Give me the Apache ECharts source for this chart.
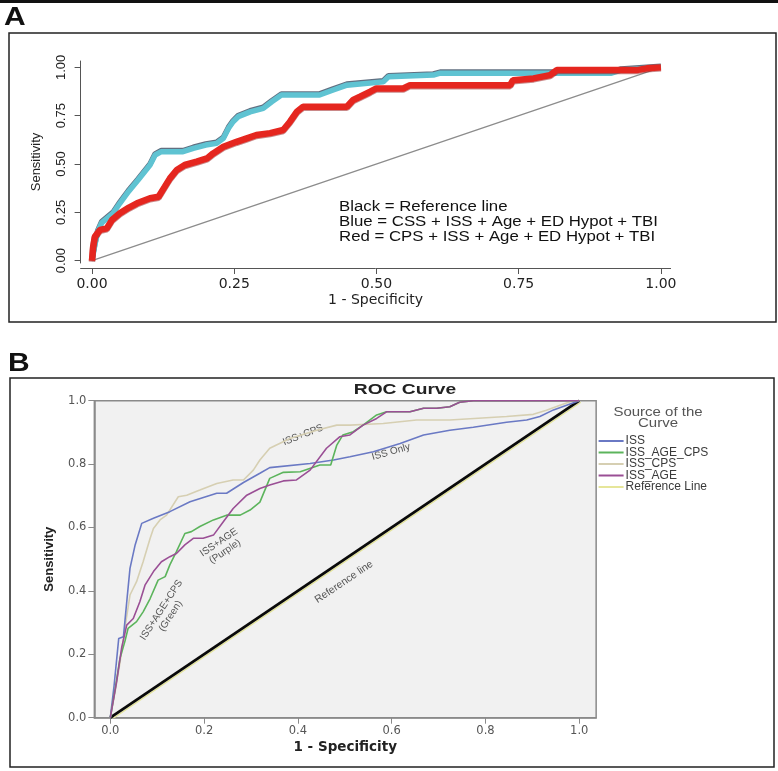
<!DOCTYPE html>
<html><head><meta charset="utf-8">
<script src="https://cdn.jsdelivr.net/npm/echarts@6/dist/echarts.min.js"></script>
<style>html,body{margin:0;padding:0;background:#fff}#c{width:778px;height:771px}</style>
</head><body><div id="c"></div>
<script>
// ---------- Panel A data ----------
const ticksA = [0, 0.25, 0.5, 0.75, 1];
const refAx = [0, 1];
const refAy = [0, 1];
const blueAx = [0, 0.005, 0.01, 0.017, 0.037, 0.049, 0.064, 0.081, 0.102, 0.111, 0.122, 0.16, 0.178, 0.2, 0.219, 0.231, 0.24, 0.248, 0.257, 0.278, 0.301, 0.316, 0.333, 0.4, 0.424, 0.448, 0.512, 0.521, 0.6, 0.612, 0.913, 0.93, 1];
const blueAy = [0, 0.08, 0.15, 0.196, 0.245, 0.297, 0.357, 0.417, 0.495, 0.547, 0.564, 0.564, 0.581, 0.598, 0.607, 0.633, 0.685, 0.719, 0.745, 0.77, 0.788, 0.822, 0.857, 0.857, 0.883, 0.908, 0.925, 0.951, 0.96, 0.97, 0.97, 0.986, 1];
const redAx = [0, 0.002, 0.005, 0.014, 0.026, 0.035, 0.049, 0.065, 0.079, 0.102, 0.117, 0.128, 0.137, 0.149, 0.163, 0.184, 0.202, 0.213, 0.231, 0.254, 0.272, 0.289, 0.313, 0.336, 0.348, 0.36, 0.371, 0.448, 0.459, 0.471, 0.489, 0.5, 0.547, 0.559, 0.735, 0.74, 0.776, 0.805, 0.817, 0.957, 0.975, 1];
const redAy = [0, 0.07, 0.124, 0.159, 0.167, 0.21, 0.245, 0.275, 0.297, 0.323, 0.331, 0.383, 0.426, 0.469, 0.495, 0.512, 0.529, 0.555, 0.589, 0.615, 0.633, 0.65, 0.66, 0.676, 0.719, 0.77, 0.796, 0.796, 0.831, 0.848, 0.874, 0.891, 0.891, 0.908, 0.908, 0.934, 0.943, 0.96, 0.986, 0.986, 0.995, 1];
const legendA = ['Black = Reference line', 'Blue = CSS + ISS + Age + ED Hypot + TBI', 'Red = CPS + ISS + Age + ED Hypot + TBI'];

// ---------- Panel B data ----------
const ticksB = [0, 0.2, 0.4, 0.6, 0.8, 1];
const namesB = ['ISS', 'ISS_AGE_CPS', 'ISS_CPS', 'ISS_AGE', 'Reference Line'];
const issX = [0, 0.008, 0.018, 0.028, 0.036, 0.042, 0.053, 0.067, 0.092, 0.127, 0.17, 0.227, 0.248, 0.284, 0.319, 0.34, 0.426, 0.476, 0.511, 0.561, 0.618, 0.668, 0.724, 0.774, 0.845, 0.888, 0.916, 0.945, 0.973, 1];
const issY = [0, 0.1, 0.25, 0.255, 0.38, 0.471, 0.545, 0.613, 0.629, 0.65, 0.681, 0.708, 0.708, 0.742, 0.771, 0.789, 0.802, 0.813, 0.823, 0.839, 0.865, 0.892, 0.907, 0.916, 0.932, 0.939, 0.95, 0.971, 0.986, 1];
const issCpsX = [0, 0.01, 0.021, 0.031, 0.042, 0.056, 0.07, 0.085, 0.092, 0.106, 0.12, 0.145, 0.163, 0.191, 0.227, 0.262, 0.284, 0.305, 0.319, 0.34, 0.383, 0.44, 0.483, 0.511, 0.582, 0.653, 0.724, 0.845, 0.902, 0.93, 0.959, 0.987, 1];
const issCpsY = [0, 0.08, 0.177, 0.282, 0.387, 0.429, 0.492, 0.566, 0.597, 0.624, 0.639, 0.697, 0.702, 0.718, 0.739, 0.75, 0.75, 0.781, 0.813, 0.85, 0.881, 0.907, 0.923, 0.923, 0.928, 0.939, 0.939, 0.95, 0.957, 0.97, 0.986, 1, 1];
const issAgeX = [0, 0.0135, 0.024, 0.035, 0.049, 0.063, 0.074, 0.092, 0.109, 0.127, 0.141, 0.159, 0.177, 0.198, 0.22, 0.241, 0.262, 0.291, 0.319, 0.34, 0.369, 0.397, 0.426, 0.461, 0.489, 0.511, 0.539, 0.568, 0.589, 0.639, 0.668, 0.696, 0.724, 0.745, 0.774, 1];
const issAgeY = [0, 0.114, 0.219, 0.292, 0.313, 0.366, 0.418, 0.461, 0.492, 0.508, 0.518, 0.545, 0.566, 0.566, 0.576, 0.618, 0.66, 0.702, 0.723, 0.734, 0.747, 0.75, 0.781, 0.85, 0.886, 0.892, 0.923, 0.944, 0.965, 0.965, 0.976, 0.976, 0.981, 0.995, 1, 1];
const issAgeCpsX = [0, 0.0107, 0.0206, 0.031, 0.038, 0.056, 0.07, 0.085, 0.102, 0.117, 0.127, 0.141, 0.159, 0.173, 0.191, 0.22, 0.248, 0.277, 0.298, 0.319, 0.34, 0.369, 0.405, 0.447, 0.47, 0.483, 0.496, 0.518, 0.539, 0.568, 0.589, 0.639, 0.668, 0.696, 0.724, 0.745, 0.774, 1];
const issAgeCpsY = [0, 0.093, 0.187, 0.24, 0.282, 0.303, 0.334, 0.376, 0.434, 0.445, 0.482, 0.524, 0.581, 0.587, 0.603, 0.624, 0.639, 0.639, 0.655, 0.68, 0.755, 0.774, 0.776, 0.797, 0.797, 0.86, 0.892, 0.902, 0.923, 0.955, 0.965, 0.965, 0.976, 0.976, 0.981, 0.995, 1, 1];
const refBx = [0, 1];
const refBy = [0, 1];

const zip = (xs, ys) => xs.map((x, i) => [x, ys[i]]);
const f2 = v => v.toFixed(2);
const f1 = v => v.toFixed(1);

const chart = echarts.init(document.getElementById('c'), null, {renderer: 'canvas'});

const txt = (x, y, text, font, opts) => Object.assign({
  type: 'text', x: x, y: y, silent: true,
  style: {text: text, font: font, fill: '#111', align: 'left', verticalAlign: 'middle'}
}, opts || {});

const option = {
  animation: false,
  backgroundColor: '#fff',
  grid: [
    {left: 80.6, top: 61, width: 590, height: 202, containLabel: false},
    {left: 94.35, top: 400.7, width: 501.8, height: 317, show: true,
     backgroundColor: '#f1f1f1', borderColor: '#8a8a8a', borderWidth: 1.5}
  ],
  xAxis: [
    {type: 'value', gridIndex: 0, min: -0.02, max: 1.017, offset: 5,
     axisLine: {show: true, onZero: false, lineStyle: {color: '#555', width: 1}},
     axisTick: {show: true, customValues: ticksA, length: 6, lineStyle: {color: '#555'}},
     axisLabel: {customValues: ticksA, formatter: f2, margin: 9, fontFamily: 'DejaVu Sans', fontSize: 14, color: '#222'},
     splitLine: {show: false},
     name: '1 - Specificity', nameLocation: 'middle', nameGap: 25,
     nameTextStyle: {fontFamily: 'DejaVu Sans', fontSize: 14, color: '#222'}},
    {type: 'value', gridIndex: 1, min: -0.034, max: 1.036,
     axisLine: {show: true, onZero: false, lineStyle: {color: '#8a8a8a', width: 1.5}},
     axisTick: {show: true, customValues: ticksB, length: 6, lineStyle: {color: '#8a8a8a'}},
     axisLabel: {customValues: ticksB, formatter: f1, margin: 7, fontFamily: 'DejaVu Sans', fontSize: 11.5, color: '#555'},
     splitLine: {show: false},
     name: '1 - Specificity', nameLocation: 'middle', nameGap: 23,
     nameTextStyle: {fontFamily: 'DejaVu Sans', fontSize: 13.5, fontWeight: 'bold', color: '#222'}}
  ],
  yAxis: [
    {type: 'value', gridIndex: 0, min: -0.012, max: 1.033,
     axisLine: {show: true, onZero: false, lineStyle: {color: '#555', width: 1}},
     axisTick: {show: true, customValues: ticksA, length: 6, lineStyle: {color: '#555'}},
     axisLabel: {customValues: ticksA, formatter: f2, rotate: 90, margin: 13, fontFamily: 'Liberation Sans', fontSize: 13, color: '#222'},
     splitLine: {show: false},
     name: 'Sensitivity', nameLocation: 'middle', nameGap: 38,
     nameTextStyle: {fontFamily: 'Liberation Sans', fontSize: 13, color: '#222'}},
    {type: 'value', gridIndex: 1, min: 0, max: 1, interval: 0.2,
     axisLine: {show: true, onZero: false, lineStyle: {color: '#8a8a8a', width: 1.5}},
     axisTick: {show: true, length: 6, lineStyle: {color: '#8a8a8a'}},
     axisLabel: {formatter: f1, margin: 8, fontFamily: 'DejaVu Sans', fontSize: 11.5, color: '#555'},
     splitLine: {show: false},
     name: 'Sensitivity', nameLocation: 'middle', nameGap: 38,
     nameTextStyle: {fontFamily: 'Liberation Sans', fontSize: 13, fontWeight: 'bold', color: '#222'}}
  ],
  legend: {
    orient: 'vertical', left: 598.6, top: 435, padding: 0, itemGap: -0.5,
    itemWidth: 25, itemHeight: 2, icon: 'rect', selectedMode: false,
    data: namesB,
    textStyle: {fontFamily: 'Liberation Sans', fontSize: 12, color: '#3a3a3a', lineHeight: 11, padding: [0, 0, 0, -3]}
  },
  series: [
    {type: 'line', name: 'refA', xAxisIndex: 0, yAxisIndex: 0, data: zip(refAx, refAy), showSymbol: false, silent: true,
     lineStyle: {color: '#8c8c8c', width: 1.3}, z: 2},
    {type: 'line', name: 'blueA', xAxisIndex: 0, yAxisIndex: 0, data: zip(blueAx, blueAy), showSymbol: false, silent: true,
     color: '#5fc3d2',
     lineStyle: {color: '#5fc3d2', width: 5.5, shadowColor: 'rgba(30,50,75,0.7)', shadowBlur: 0, shadowOffsetY: -1.1}, z: 3},
    {type: 'line', name: 'redA', xAxisIndex: 0, yAxisIndex: 0, data: zip(redAx, redAy), showSymbol: false, silent: true,
     color: '#e5261f',
     lineStyle: {color: '#e5261f', width: 6.5, shadowColor: 'rgba(150,20,20,0.5)', shadowBlur: 0, shadowOffsetY: 1}, z: 4},

    {type: 'line', name: 'Reference Line', xAxisIndex: 1, yAxisIndex: 1, data: zip(refBx, refBy), showSymbol: false, silent: true,
     color: '#e6e69a',
     lineStyle: {color: '#e6e69a', width: 1.3, shadowColor: '#e3e394', shadowBlur: 0, shadowOffsetX: 1.5, shadowOffsetY: 1.5}, z: 2},
    {type: 'line', name: 'refBlack', xAxisIndex: 1, yAxisIndex: 1, data: zip(refBx, refBy), showSymbol: false, silent: true,
     color: '#000', lineStyle: {color: '#0a0a0a', width: 2.8}, z: 3},
    {type: 'line', name: 'ISS_CPS', xAxisIndex: 1, yAxisIndex: 1, data: zip(issCpsX, issCpsY), showSymbol: false, silent: true,
     color: '#d6cfb2', lineStyle: {color: '#d6cfb2', width: 1.6}, z: 4},
    {type: 'line', name: 'ISS', xAxisIndex: 1, yAxisIndex: 1, data: zip(issX, issY), showSymbol: false, silent: true,
     color: '#6a79c4', lineStyle: {color: '#6a79c4', width: 1.6}, z: 5},
    {type: 'line', name: 'ISS_AGE_CPS', xAxisIndex: 1, yAxisIndex: 1, data: zip(issAgeCpsX, issAgeCpsY), showSymbol: false, silent: true,
     color: '#5cb45c', lineStyle: {color: '#5cb45c', width: 1.6}, z: 6},
    {type: 'line', name: 'ISS_AGE', xAxisIndex: 1, yAxisIndex: 1, data: zip(issAgeX, issAgeY), showSymbol: false, silent: true,
     color: '#9a4f95', lineStyle: {color: '#9a4f95', width: 1.6}, z: 7}
  ],
  graphic: [
    {type: 'rect', shape: {x: 0, y: 0, width: 778, height: 3}, style: {fill: '#111'}, silent: true},
    txt(4, 18, 'A', 'bold 25px "Liberation Sans", Arial', {scaleX: 1.2}),
    {type: 'rect', shape: {x: 9, y: 33, width: 767, height: 289}, style: {fill: 'none', stroke: '#222', lineWidth: 1.5}, silent: true},
    txt(339, 207, legendA[0], '14px "Liberation Sans", Arial', {scaleX: 1.2}),
    txt(339, 222, legendA[1], '14px "Liberation Sans", Arial', {scaleX: 1.2}),
    txt(339, 237, legendA[2], '14px "Liberation Sans", Arial', {scaleX: 1.2}),

    txt(8, 364, 'B', 'bold 25px "Liberation Sans", Arial', {scaleX: 1.2}),
    {type: 'rect', shape: {x: 10, y: 378, width: 764, height: 389}, style: {fill: 'none', stroke: '#222', lineWidth: 1.5}, silent: true},
    {type: 'text', x: 405, y: 390, silent: true, scaleX: 1.28,
     style: {text: 'ROC Curve', font: 'bold 15px "Liberation Sans", Arial', fill: '#222', align: 'center', verticalAlign: 'middle'}},
    {type: 'text', x: 658, y: 418, silent: true, scaleX: 1.2,
     style: {text: 'Source of the\nCurve', font: '12.5px "Liberation Sans", Arial', lineHeight: 11.5, fill: '#555', align: 'center', verticalAlign: 'middle'}},

    {type: 'text', x: 303, y: 435, rotation: 21 * Math.PI / 180, silent: true,
     style: {text: 'ISS+CPS', font: '10px "Liberation Sans", Arial', fill: '#555', align: 'center', verticalAlign: 'middle'}},
    {type: 'text', x: 391, y: 452, rotation: 16 * Math.PI / 180, silent: true,
     style: {text: 'ISS Only', font: '10px "Liberation Sans", Arial', fill: '#555', align: 'center', verticalAlign: 'middle'}},
    {type: 'text', x: 222, y: 547, rotation: 34 * Math.PI / 180, silent: true,
     style: {text: 'ISS+AGE\n(Purple)', font: '10px "Liberation Sans", Arial', lineHeight: 11, fill: '#555', align: 'center', verticalAlign: 'middle'}},
    {type: 'text', x: 166, y: 613, rotation: 57 * Math.PI / 180, silent: true,
     style: {text: 'ISS+AGE+CPS\n(Green)', font: '10px "Liberation Sans", Arial', lineHeight: 11, fill: '#555', align: 'center', verticalAlign: 'middle'}},
    {type: 'text', x: 344, y: 582, rotation: 34 * Math.PI / 180, silent: true,
     style: {text: 'Reference line', font: '10.5px "Liberation Sans", Arial', fill: '#555', align: 'center', verticalAlign: 'middle'}}
  ]
};
chart.setOption(option);
</script>
</body></html>
